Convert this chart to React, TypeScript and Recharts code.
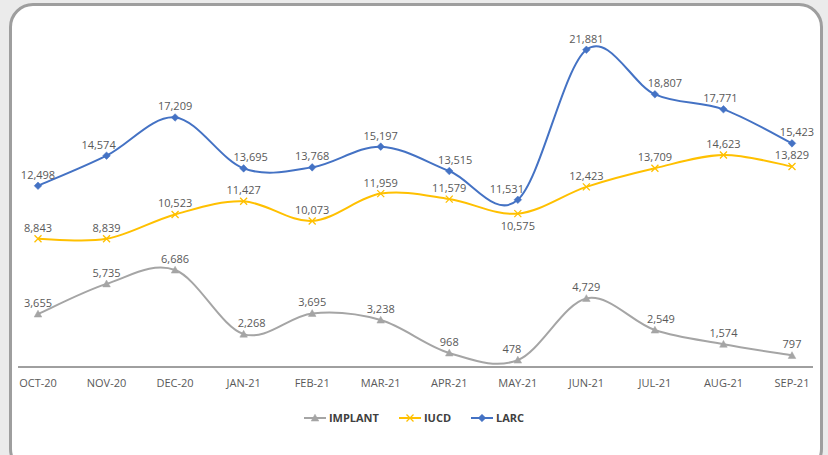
import React from 'react';
import { LineChart, Line, XAxis, YAxis, Legend } from 'recharts';

const months = ['OCT-20', 'NOV-20', 'DEC-20', 'JAN-21', 'FEB-21', 'MAR-21', 'APR-21', 'MAY-21', 'JUN-21', 'JUL-21', 'AUG-21', 'SEP-21'];
const implant = [3655, 5735, 6686, 2268, 3695, 3238, 968, 478, 4729, 2549, 1574, 797];
const iucd = [8843, 8839, 10523, 11427, 10073, 11959, 11579, 10575, 12423, 13709, 14623, 13829];
const larc = [12498, 14574, 17209, 13695, 13768, 15197, 13515, 11531, 21881, 18807, 17771, 15423];

const data = months.map((m, i) => ({ month: m, IMPLANT: implant[i], IUCD: iucd[i], LARC: larc[i] }));

const FONT = '"Open Sans", sans-serif';
const LABEL_COLOR = '#595959';
const COLORS: Record<string, string> = { IMPLANT: '#A5A5A5', IUCD: '#FFC000', LARC: '#4472C4' };

// label placement tweaks: [dx, below?]
const labelTweak: Record<string, [number, boolean]> = {
  'LARC-1': [-8, false],
  'LARC-3': [7, false],
  'LARC-6': [6, false],
  'LARC-7': [-11, false],
  'LARC-9': [10, false],
  'LARC-10': [-3, false],
  'LARC-11': [5, false],
  'IUCD-7': [0, true],
  'IMPLANT-3': [8, false],
  'IMPLANT-7': [-6, false],
  'IMPLANT-9': [6, false],
};

// Excel-like smoothing (Catmull-Rom, 1/6 control points)
const smoothCurve: any = (context: any) => {
  let pts: number[][] = [];
  return {
    areaStart() {},
    areaEnd() {},
    lineStart() { pts = []; },
    lineEnd() {
      const n = pts.length;
      if (!n) return;
      context.moveTo(pts[0][0], pts[0][1]);
      for (let i = 0; i < n - 1; i++) {
        const p0 = pts[i - 1] || pts[i];
        const p1 = pts[i];
        const p2 = pts[i + 1];
        const p3 = pts[i + 2] || p2;
        context.bezierCurveTo(
          p1[0] + (p2[0] - p0[0]) / 6, p1[1] + (p2[1] - p0[1]) / 6,
          p2[0] - (p3[0] - p1[0]) / 6, p2[1] - (p3[1] - p1[1]) / 6,
          p2[0], p2[1]
        );
      }
    },
    point(x: number, y: number) { pts.push([+x, +y]); },
  };
};

const Marker = ({ kind, x, y }: { kind: string; x: number; y: number }) => {
  const c = COLORS[kind];
  if (kind === 'LARC') {
    const s = 3.8;
    return <path d={`M${x},${y - s}L${x + s},${y}L${x},${y + s}L${x - s},${y}Z`} fill={c} stroke={c} strokeWidth={0.5} />;
  }
  if (kind === 'IUCD') {
    const s = 3.5;
    return <path d={`M${x - s},${y - s}L${x + s},${y + s}M${x - s},${y + s}L${x + s},${y - s}`} stroke={c} strokeWidth={1.3} fill="none" />;
  }
  const s = 3.8;
  return <path d={`M${x},${y - s}L${x + s},${y + s * 0.8}L${x - s},${y + s * 0.8}Z`} fill={c} stroke={c} strokeWidth={0.5} />;
};

const makeDot = (kind: string) => (props: any) => {
  const { cx, cy, index, payload } = props;
  if (cx == null || cy == null) return <g key={`${kind}-${index}`} />;
  const tw = labelTweak[`${kind}-${index}`] || [0, false];
  const value = payload[kind] as number;
  const ty = tw[1] ? cy + 16 : cy - 7;
  return (
    <g key={`${kind}-${index}`}>
      <Marker kind={kind} x={cx} y={cy} />
      <text x={cx + tw[0]} y={ty} textAnchor="middle" fill={LABEL_COLOR} fontSize={11} fontFamily={FONT}>
        {value.toLocaleString('en-US')}
      </text>
    </g>
  );
};

const seriesOrder = ['IMPLANT', 'IUCD', 'LARC'];

const LegendContent = () => (
  <div style={{ display: 'flex', justifyContent: 'center', alignItems: 'center', fontFamily: FONT, fontSize: 11, fontWeight: 700, color: '#404040' }}>
    {seriesOrder.map((k) => (
      <div key={k} style={{ display: 'flex', alignItems: 'center', margin: '0 10px' }}>
        <svg width={22} height={10} style={{ marginRight: 3 }}>
          <line x1={0} y1={5} x2={22} y2={5} stroke={COLORS[k]} strokeWidth={2} />
          <Marker kind={k} x={11} y={5} />
        </svg>
        <span>{k}</span>
      </div>
    ))}
  </div>
);

export default function App() {
  return (
    <div style={{ position: 'absolute', left: 0, top: 0, width: 828, height: 455, background: '#ebebeb', overflow: 'hidden' }}>
      <div style={{ position: 'absolute', left: 9, top: 3, width: 814, height: 470, boxSizing: 'border-box', border: '3px solid #9e9e9e', borderRadius: 24, background: '#ffffff' }} />
      <div style={{ position: 'absolute', left: 0, top: 0 }}>
        <LineChart width={828} height={455} data={data} margin={{ top: 19, right: 15, bottom: 58, left: 18 }} style={{ fontFamily: FONT }}>
          <XAxis
            dataKey="month"
            axisLine={{ stroke: '#404040', strokeWidth: 1 }}
            tickLine={false}
            tickMargin={6}
            tick={{ fill: LABEL_COLOR, fontSize: 11, fontFamily: FONT }}
            padding={{ left: 20, right: 21 }}
            height={30}
            interval={0}
          />
          <YAxis hide domain={[0, 24000]} />
          {seriesOrder.map((k) => (
            <Line
              key={k}
              dataKey={k}
              type={smoothCurve}
              stroke={COLORS[k]}
              strokeWidth={2}
              dot={makeDot(k)}
              activeDot={false}
              isAnimationActive={false}
            />
          ))}
          <Legend
            verticalAlign="middle"
            align="center"
            layout="horizontal"
            wrapperStyle={{ top: 410, left: 0, width: 828, height: 18 }}
            content={<LegendContent />}
          />
        </LineChart>
      </div>
    </div>
  );
}
